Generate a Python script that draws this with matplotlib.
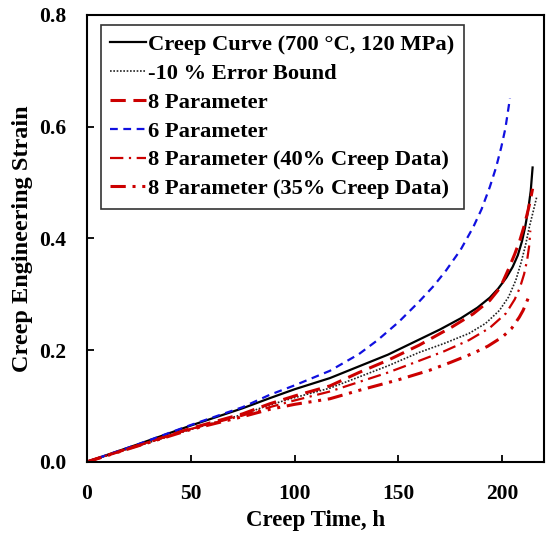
import matplotlib
matplotlib.use("Agg")
import matplotlib.pyplot as plt

# Data
creep_x = [0, 25, 50, 75, 88, 100, 117, 131, 145, 160, 170, 180, 188, 194, 198, 202, 205, 207.5, 209.5, 211, 212.5, 213.7, 214.6]
creep_y = [0, 0.032, 0.065, 0.096, 0.114, 0.130, 0.150, 0.171, 0.192, 0.219, 0.237, 0.257, 0.276, 0.294, 0.310, 0.330, 0.349, 0.370, 0.395, 0.420, 0.452, 0.485, 0.527]

bound_x = [0, 25, 50, 75, 88, 100, 117, 131, 145, 160, 172, 184, 192, 198.6, 203, 206.5, 209, 211.2, 213, 215, 216.5]
bound_y = [0, 0.029, 0.058, 0.085, 0.102, 0.115, 0.132, 0.152, 0.172, 0.196, 0.212, 0.230, 0.248, 0.271, 0.295, 0.325, 0.356, 0.388, 0.420, 0.450, 0.473]

p8_x = [0, 25, 50, 75, 88, 100, 117, 131, 145, 160, 176, 186, 194, 199, 203, 206, 208.5, 210.5, 212, 213.4, 214.6]
p8_y = [0, 0.030, 0.060, 0.086, 0.104, 0.118, 0.136, 0.160, 0.182, 0.209, 0.242, 0.265, 0.289, 0.312, 0.345, 0.372, 0.397, 0.422, 0.444, 0.466, 0.489]

p6_x = [0, 25, 50, 75, 88, 100, 117, 131, 140, 150, 160, 167, 173, 180, 186, 190, 194, 197, 199.5, 201.5, 203.7]
p6_y = [0, 0.032, 0.066, 0.098, 0.120, 0.137, 0.163, 0.193, 0.218, 0.250, 0.287, 0.315, 0.343, 0.380, 0.420, 0.452, 0.492, 0.527, 0.563, 0.597, 0.651]

p8_40_x = [0, 25, 50, 75, 88, 100, 117, 131, 145, 160, 172, 184, 194, 201.8, 206, 208.5, 210.5, 212, 213, 213.5]
p8_40_y = [0, 0.030, 0.059, 0.083, 0.098, 0.110, 0.126, 0.143, 0.160, 0.181, 0.198, 0.218, 0.240, 0.266, 0.291, 0.312, 0.336, 0.362, 0.388, 0.414]

p8_35_x = [0, 25, 50, 75, 88, 100, 117, 131, 150, 165, 175, 185.7, 193, 200.2, 204.5, 208.2, 210, 211.4, 213]
p8_35_y = [0, 0.029, 0.058, 0.081, 0.094, 0.103, 0.113, 0.128, 0.147, 0.164, 0.178, 0.194, 0.207, 0.224, 0.239, 0.259, 0.271, 0.283, 0.298]

labels = ["Creep Curve (700 °C, 120 MPa)", "-10 % Error Bound", "8 Parameter",
          "6 Parameter", "8 Parameter (40% Creep Data)", "8 Parameter (35% Creep Data)"]

xticks = [0, 50, 100, 150, 200]
yticks = [0.0, 0.2, 0.4, 0.6, 0.8]

plt.rcParams['font.family'] = ['Liberation Serif', 'DejaVu Serif']
plt.rcParams['font.weight'] = 'bold'

fig = plt.figure(figsize=(5.46, 5.34), dpi=100)
ax = fig.add_axes([0.159, 0.135, 0.837, 0.837])

red = '#CC0000'
ax.plot(creep_x, creep_y, color='black', lw=1.6, ls='-', label=labels[0])
ax.plot(bound_x, bound_y, color='#222222', lw=1.2, ls=(0, (1, 1)), label=labels[1])
ax.plot(p8_x, p8_y, color=red, lw=2.2, ls=(0, (5, 2.5)), label=labels[2])
ax.plot(p6_x, p6_y, color='#1010E0', lw=1.6, ls=(0, (3.5, 2.5)), label=labels[3])
ax.plot(p8_40_x, p8_40_y, color=red, lw=1.6, ls=(0, (6, 2.5, 1, 2.5)), label=labels[4])
ax.plot(p8_35_x, p8_35_y, color=red, lw=2.2, ls=(0, (5, 2.2, 1, 2.2, 1, 2.2)), label=labels[5])

ax.set_xlim(0, 220)
ax.set_ylim(0, 0.8)
ax.set_xticks(xticks)
ax.set_yticks(yticks)
ax.set_yticklabels([f"{v:.1f}" for v in yticks])
ax.tick_params(direction='in', length=5, width=1.3, labelsize=15.5)
ax.tick_params(axis='y', pad=15)
ax.tick_params(axis='x', pad=16)
for lab in ax.get_xticklabels() + ax.get_yticklabels():
    lab.set_fontweight('bold')
for s in ax.spines.values():
    s.set_linewidth(1.5)

ax.set_xlabel("Creep Time, h", fontsize=16.5, fontweight='bold', labelpad=4)
ax.set_ylabel("Creep Engineering Strain", fontsize=17.5, fontweight='bold', labelpad=4)

leg = ax.legend(loc='upper left', bbox_to_anchor=(0.031, 0.978), borderaxespad=0,
                prop={'family': 'Liberation Serif', 'weight': 'bold', 'size': 16.2},
                handlelength=1.6, handletextpad=0.08, labelspacing=0.36,
                borderpad=0.42, fancybox=False, framealpha=1)
leg.get_frame().set_edgecolor('#333333')
leg.get_frame().set_linewidth(1.2)

fig.savefig("out.png", dpi=100)
